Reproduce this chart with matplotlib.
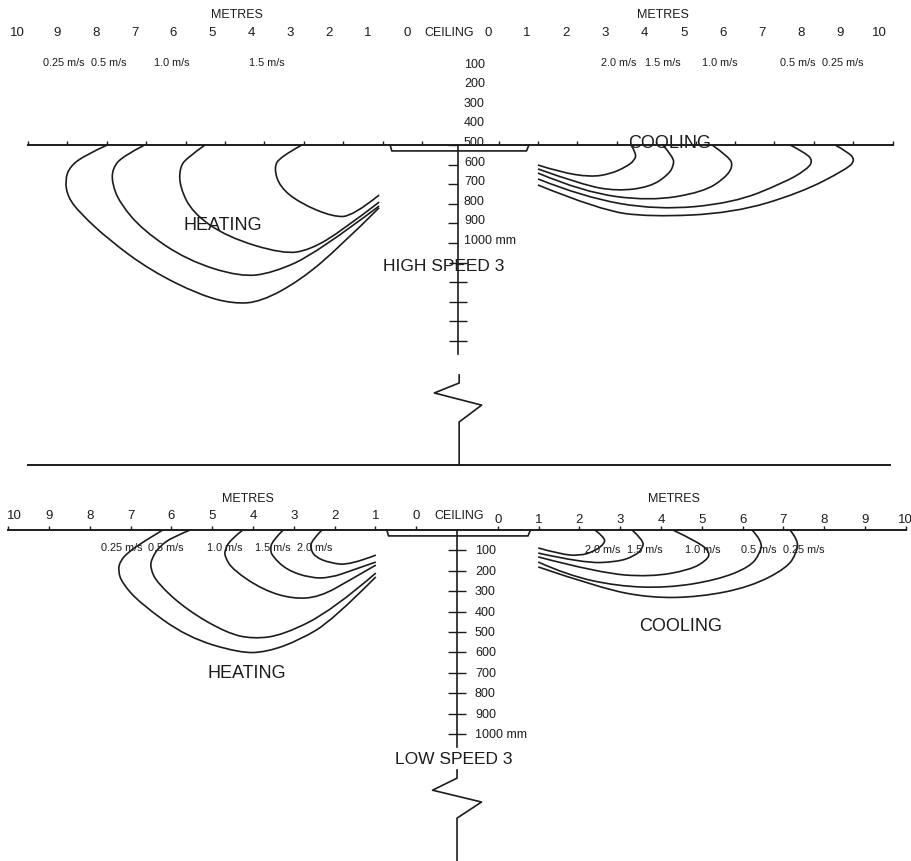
import numpy as np
import matplotlib.pyplot as plt
from matplotlib.path import Path
from matplotlib.patches import PathPatch

plt.rcParams['font.family'] = ['Liberation Sans', 'DejaVu Sans']

# ---- HIGH SPEED 3 (top): x in metres from centre line, y in mm on the drawn scale
hs_heat_vel = ["0.25 m/s", "0.5 m/s", "1.0 m/s", "1.5 m/s"]
hs_heat_x = [
    [-8.9, -9.45, -9.85, -9.97, -9.9, -9.6, -8.85, -7.8, -6.55, -5.7, -5.0, -4.0, -3.0, -2.0],
    [-7.95, -8.5, -8.76, -8.78, -8.58, -8.0, -6.88, -5.53, -4.7, -3.58, -2.0],
    [-6.42, -6.85, -7.06, -7.06, -6.73, -5.86, -4.44, -3.76, -2.92, -2.0],
    [-3.96, -4.52, -4.67, -4.52, -4.01, -3.17, -2.66, -2.0],
]
hs_heat_y = [
    [500, 550, 610, 680, 765, 845, 985, 1140, 1265, 1310, 1300, 1190, 1020, 820],
    [500, 556, 617, 694, 796, 934, 1087, 1173, 1153, 1051, 811],
    [500, 561, 612, 714, 847, 969, 1056, 1036, 934, 791],
    [500, 561, 617, 714, 796, 867, 862, 755],
]
hs_cool_vel = ["2.0 m/s", "1.5 m/s", "1.0 m/s", "0.5 m/s", "0.25 m/s"]
hs_cool_x = [
    [2.03, 2.59, 3.35, 3.86, 4.26, 4.49, 4.52, 4.39],
    [2.03, 3.17, 4.04, 4.87, 5.33, 5.48, 5.46, 5.2],
    [2.03, 3.17, 4.87, 6.22, 6.78, 6.98, 6.88, 6.45],
    [2.03, 3.17, 5.05, 6.98, 8.25, 8.83, 9.01, 8.83, 8.43],
    [2.03, 3.6, 4.87, 6.98, 8.68, 9.87, 10.08, 9.9, 9.57],
]
hs_cool_y = [
    [602, 638, 663, 648, 612, 577, 541, 500],
    [622, 704, 735, 714, 653, 602, 561, 500],
    [643, 740, 786, 740, 668, 607, 561, 500],
    [673, 765, 832, 796, 694, 628, 582, 541, 500],
    [704, 832, 867, 847, 745, 622, 577, 536, 500],
]
hs_scale = [100, 200, 300, 400, 500, 600, 700, 800, 900, 1000]

# ---- LOW SPEED 3 (bottom): x in metres from centre line, y in mm below ceiling
ls_heat_vel = ["0.25 m/s", "0.5 m/s", "1.0 m/s", "1.5 m/s", "2.0 m/s"]
ls_heat_x = [
    [-7.21, -7.7, -8.05, -8.25, -8.31, -8.2, -7.77, -6.62, -5.32, -4.66, -3.85, -3.04, -1.99],
    [-6.54, -6.96, -7.28, -7.48, -7.52, -7.35, -6.62, -5.64, -5.0, -4.26, -3.04, -1.99],
    [-5.25, -5.56, -5.69, -5.69, -5.49, -4.75, -4.02, -3.36, -2.62, -1.99],
    [-4.26, -4.53, -4.58, -4.51, -4.17, -3.6, -3.11, -2.55, -1.99],
    [-3.31, -3.55, -3.6, -3.48, -3.11, -2.62, -1.99],
]
ls_heat_y = [
    [0, 59, 108, 150, 200, 262, 358, 525, 603, 598, 539, 441, 230],
    [0, 34, 78, 137, 186, 260, 392, 505, 534, 515, 392, 211],
    [0, 49, 98, 132, 196, 294, 338, 328, 245, 172],
    [0, 54, 98, 132, 196, 235, 235, 196, 157],
    [0, 49, 88, 132, 162, 172, 123],
]
ls_cool_vel = ["2.0 m/s", "1.5 m/s", "1.0 m/s", "0.5 m/s", "0.25 m/s"]
ls_cool_x = [
    [1.99, 2.52, 3.01, 3.38, 3.63, 3.6, 3.38],
    [1.99, 3.09, 3.92, 4.36, 4.56, 4.56, 4.29],
    [1.99, 3.5, 4.73, 5.71, 6.13, 6.2, 5.91, 5.29],
    [1.99, 2.7, 3.92, 5.15, 6.37, 7.18, 7.43, 7.48, 7.23],
    [1.99, 3.5, 4.73, 5.96, 7.18, 8.09, 8.33, 8.36, 8.16],
]
ls_cool_y = [
    [88, 118, 127, 103, 64, 34, 0],
    [113, 162, 157, 127, 88, 49, 0],
    [132, 211, 230, 196, 147, 108, 59, 0],
    [157, 221, 275, 284, 245, 181, 113, 54, 0],
    [181, 284, 333, 328, 279, 186, 108, 49, 0],
]
ls_scale = [100, 200, 300, 400, 500, 600, 700, 800, 900, 1000]

metres = list(range(11))
INK = '#1c1c1c'


def jet_path(xs, ys):
    pts = np.column_stack([xs, ys])
    verts, codes = [pts[0]], [Path.MOVETO]
    for i in range(1, len(pts) - 1):
        end = pts[i + 1] if i == len(pts) - 2 else (pts[i] + pts[i + 1]) / 2
        verts += [pts[i], end]
        codes += [Path.CURVE3, Path.CURVE3]
    return Path(verts, codes)


def draw_jets(ax, xs_list, ys_list):
    for xs, ys in zip(xs_list, ys_list):
        ax.add_patch(PathPatch(jet_path(xs, ys), fill=False, lw=1.2, ec=INK))


def draw_ceiling(ax, ceil, left0, right0, plate_depth):
    ax.plot([left0 - 10, right0 + 10], [ceil, ceil], color=INK, lw=1.4)
    ticks = [left0 - m for m in metres] + [right0 + m for m in metres]
    ax.vlines(ticks, ceil - 20, ceil, color=INK, lw=1.0)
    ax.plot([-1.72, -1.68, 1.74, 1.8], [ceil, ceil + plate_depth, ceil + plate_depth, ceil],
            color=INK, lw=1.2)


fig = plt.figure(figsize=(9.12, 8.61), dpi=100)
ax1 = fig.add_axes([0, 1 - 480 / 861, 1, 480 / 861])
ax2 = fig.add_axes([0, 0, 1, 381 / 861])
for ax in (ax1, ax2):
    ax.axis('off')
ax1.set_xlim(-11.62, 11.52)
ax1.set_ylim(2209, -240)
ax2.set_xlim(-11.2, 11.15)
ax2.set_ylim(1622, -245)

# ---------------- top panel ----------------
draw_ceiling(ax1, 500, -0.91, 1.03, 30)
draw_jets(ax1, hs_heat_x, hs_heat_y)
draw_jets(ax1, hs_cool_x, hs_cool_y)

ax1.plot([0, 0], [500, 1566], color=INK, lw=1.2)
ax1.hlines([v for v in hs_scale if v >= 500], -0.25, 0, color=INK, lw=1.0)
ax1.hlines([1100, 1200, 1300, 1400, 1500], -0.22, 0.22, color=INK, lw=1.0)
ax1.plot([0.03, 0.03, -0.6, 0.6, 0.03, 0.03], [1673, 1714, 1765, 1827, 1913, 2133],
         color=INK, lw=1.2)
ax1.plot([-10.91, 10.97], [2133, 2133], color=INK, lw=1.4)

for v in hs_scale:
    lab = f"{v} mm" if v == 1000 else str(v)
    ax1.text(0.15, v - 10, lab, fontsize=9, ha='left', va='center', color=INK)

for k in metres:
    ax1.text(-(1.29 + 0.988 * k), -71, str(k), fontsize=9.5, ha='center', va='center', color=INK)
    ax1.text(0.76 + 0.993 * k, -71, str(k), fontsize=9.5, ha='center', va='center', color=INK)
ax1.text(-0.23, -71, "CEILING", fontsize=9, ha='center', va='center', color=INK)
ax1.text(-5.61, -163, "METRES", fontsize=9, ha='center', va='center', color=INK)
ax1.text(5.2, -163, "METRES", fontsize=9, ha='center', va='center', color=INK)

for lab, x in zip(hs_heat_vel, [-10.0, -8.86, -7.26, -4.85]):
    ax1.text(x, 82, lab, fontsize=7.8, ha='center', va='center', color=INK)
for lab, x in zip(hs_cool_vel, [4.09, 5.2, 6.65, 8.63, 9.77]):
    ax1.text(x, 82, lab, fontsize=7.8, ha='center', va='center', color=INK)

ax1.text(-5.96, 913, "HEATING", fontsize=13, ha='center', va='center', color=INK)
ax1.text(5.36, 490, "COOLING", fontsize=13, ha='center', va='center', color=INK)
ax1.text(-0.36, 1122, "HIGH SPEED 3", fontsize=12.5, ha='center', va='center', color=INK)

# ---------------- bottom panel ----------------
draw_ceiling(ax2, 0, -1.0, 1.0, 29)
draw_jets(ax2, ls_heat_x, ls_heat_y)
draw_jets(ax2, ls_cool_x, ls_cool_y)

ax2.plot([0, 0], [0, 1064], color=INK, lw=1.2)
ax2.hlines(ls_scale, -0.22, 0.22, color=INK, lw=1.0)
ax2.plot([0, 0, -0.6, 0.6, 0, 0], [1176, 1216, 1275, 1333, 1412, 1622], color=INK, lw=1.2)

for v in ls_scale:
    lab = f"{v} mm" if v == 1000 else str(v)
    ax2.text(0.44, v + 5, lab, fontsize=9, ha='left', va='center', color=INK)

for k in metres:
    ax2.text(-(1.0 + k) + (0.15 if k == 10 else 0), -69, str(k), fontsize=9.5,
             ha='center', va='center', color=INK)
    ax2.text(1.0 + k, -49, str(k), fontsize=9.5, ha='center', va='center', color=INK)
ax2.text(0.05, -69, "CEILING", fontsize=9, ha='center', va='center', color=INK)
ax2.text(-5.12, -152, "METRES", fontsize=9, ha='center', va='center', color=INK)
ax2.text(5.32, -152, "METRES", fontsize=9, ha='center', va='center', color=INK)

for lab, x in zip(ls_heat_vel, [-8.21, -7.13, -5.69, -4.51, -3.48]):
    ax2.text(x, 88, lab, fontsize=7.8, ha='center', va='center', color=INK)
for lab, x in zip(ls_cool_vel, [3.58, 4.61, 6.03, 7.4, 8.5]):
    ax2.text(x, 98, lab, fontsize=7.8, ha='center', va='center', color=INK)

ax2.text(-5.15, 701, "HEATING", fontsize=13, ha='center', va='center', color=INK)
ax2.text(5.47, 475, "COOLING", fontsize=13, ha='center', va='center', color=INK)
ax2.text(-0.07, 1127, "LOW SPEED 3", fontsize=12.5, ha='center', va='center', color=INK)

fig.savefig("out.png", dpi=100, facecolor='white')
